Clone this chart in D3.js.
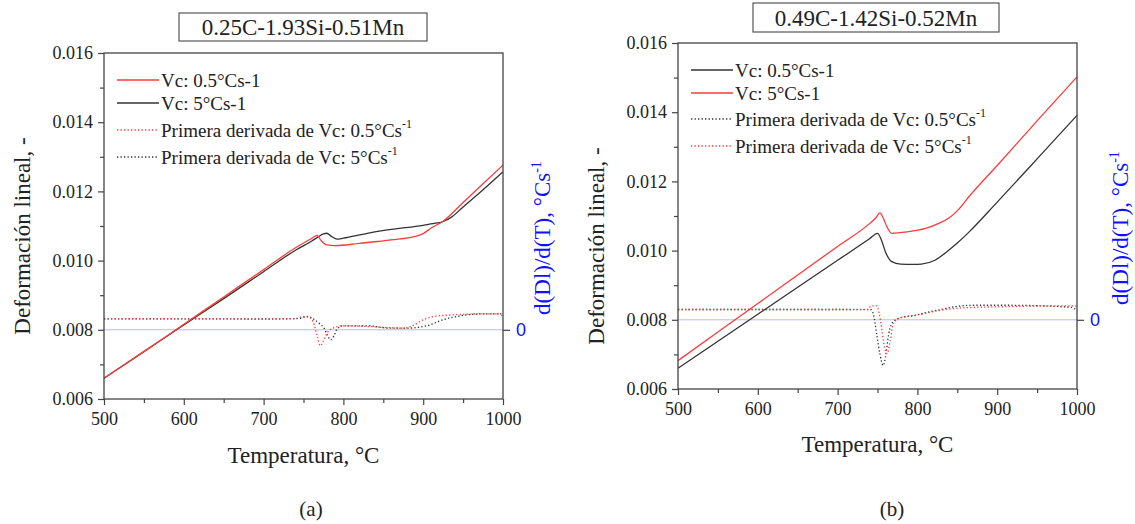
<!DOCTYPE html>
<html><head><meta charset="utf-8">
<script src="https://cdn.jsdelivr.net/npm/d3@7"></script>
<style>
html,body{margin:0;padding:0;background:#fff;}
svg{display:block;font-family:"Liberation Serif","Times New Roman",serif;}
svg text{font-family:"Liberation Serif","Times New Roman",serif;}
svg text.sans{font-family:"Liberation Sans",Arial,sans-serif;}
</style></head><body>
<svg id="chart" width="1135" height="524"></svg>
<script>
// ---------- shared ticks ----------
const tempTicks = [500, 600, 700, 800, 900, 1000];
const tempMinorTicks = [550, 650, 750, 850, 950];
const defTicks = [0.006, 0.008, 0.010, 0.012, 0.014, 0.016];
const defMinorTicks = [0.007, 0.009, 0.011, 0.013, 0.015];
const derivTicks = [0];
const tempDomain = [500, 1000];
const defDomain = [0.006, 0.016];
const derivDomain = [-10, 40]; // x1e-5 per °C, zero aligned with 0.008

// ---------- panel (a): 0.25C-1.93Si-0.51Mn ----------
const aTitle = "0.25C-1.93Si-0.51Mn";
const aTemp05 = [500, 550, 600, 650, 700, 740, 760, 767, 772, 778, 790, 820, 860, 890, 900, 910, 925, 950, 975, 1000];
const aDef05  = [0.00660, 0.00737, 0.00816, 0.00895, 0.00974, 0.01037, 0.01064, 0.01073, 0.01058, 0.01046, 0.01043, 0.01050, 0.01060, 0.01070, 0.01078, 0.01094, 0.01114, 0.01168, 0.01222, 0.01276];
const aTemp5  = [500, 550, 600, 650, 700, 740, 760, 768, 775, 779, 785, 792, 800, 830, 860, 900, 915, 925, 935, 950, 975, 1000];
const aDef5   = [0.00660, 0.00737, 0.00814, 0.00890, 0.00968, 0.01030, 0.01056, 0.01068, 0.01077, 0.01079, 0.01070, 0.01062, 0.01065, 0.01079, 0.01090, 0.01102, 0.01108, 0.01113, 0.01125, 0.01155, 0.01205, 0.01257];
const aDerTemp05 = [500, 600, 700, 740, 750, 757, 762, 767, 771, 775, 780, 787, 800, 830, 860, 875, 885, 900, 915, 945, 975, 995, 1000];
const aDer05     = [1.59, 1.59, 1.55, 1.60, 1.92, 1.80, 1.20, -0.80, -2.30, -1.60, -0.40, 0.24, 0.58, 0.48, 0.30, 0.24, 0.50, 1.45, 1.95, 2.20, 2.30, 2.30, 1.90];
const aDerTemp5  = [500, 600, 700, 745, 755, 762, 770, 776, 780, 784, 788, 792, 800, 830, 858, 880, 905, 925, 946, 975, 1000];
const aDer5      = [1.59, 1.59, 1.56, 1.65, 1.92, 1.60, 0.90, 0.20, -0.80, -1.45, -0.90, 0.10, 0.58, 0.58, 0.24, 0.24, 0.60, 1.45, 2.00, 2.30, 2.30];
const aLegend = ["Vc: 0.5°Cs-1", "Vc: 5°Cs-1", "Primera derivada de Vc: 0.5°Cs", "Primera derivada de Vc: 5°Cs"];

// ---------- panel (b): 0.49C-1.42Si-0.52Mn ----------
const bTitle = "0.49C-1.42Si-0.52Mn";
const bTemp05 = [500, 600, 700, 740, 750, 755, 760, 768, 779, 795, 805, 822, 838, 850, 864, 900, 950, 1000];
const bDef05  = [0.00660, 0.00816, 0.00972, 0.01034, 0.01050, 0.01030, 0.00996, 0.00968, 0.00961, 0.00960, 0.00961, 0.00972, 0.00999, 0.01022, 0.01052, 0.01140, 0.01265, 0.01391];
const bTemp5  = [500, 600, 700, 740, 748, 753, 757, 762, 768, 787, 810, 826, 840, 852, 865, 900, 950, 1000];
const bDef5   = [0.00682, 0.00847, 0.01012, 0.01078, 0.01095, 0.01109, 0.01095, 0.01068, 0.01050, 0.01054, 0.01064, 0.01078, 0.01095, 0.01120, 0.01157, 0.01246, 0.01375, 0.01502];
const bDerTemp05 = [500, 600, 700, 742, 746, 749, 753, 757, 760, 764, 770, 779, 796, 813, 830, 847, 872, 915, 958, 993, 1000];
const bDer05     = [1.49, 1.49, 1.49, 1.45, 0.20, -2.10, -4.90, -6.60, -5.40, -2.10, -0.20, 0.30, 0.60, 1.10, 1.50, 1.90, 2.10, 2.10, 2.00, 1.80, 1.30];
const bDerTemp5  = [500, 600, 700, 738, 742, 749, 752, 755, 758, 762, 766, 770, 779, 787, 804, 825, 843, 872, 915, 958, 1000];
const bDer5      = [1.49, 1.49, 1.49, 1.50, 2.00, 2.00, 1.00, -1.10, -3.50, -4.90, -3.00, -0.50, 0.30, 0.50, 0.80, 1.30, 1.60, 1.80, 1.90, 2.00, 2.00];
const bLegend = ["Vc: 0.5°Cs-1", "Vc: 5°Cs-1", "Primera derivada de Vc: 0.5°Cs", "Primera derivada de Vc: 5°Cs"];

const xTitle = "Temperatura, °C";
const yTitle = "Deformación lineal, -";
const y2Title = "d(Dl)/d(T), °Cs";
const panelLabels = ["(a)", "(b)"];

const RED = "#ff3a3a", BLACK = "#333333", BLUE = "#1010ff", AXIS = "#444";
const svg = d3.select("#chart");

function drawPanel(g) {
  const x = d3.scaleLinear().domain(tempDomain).range([g.left, g.right]);
  const y = d3.scaleLinear().domain(defDomain).range([g.bottom, g.top]);
  const y2 = d3.scaleLinear().domain(derivDomain).range([g.bottom, g.top]);
  const root = svg.append("g");

  // zero derivative line
  root.append("line").attr("x1", g.left).attr("x2", g.right)
    .attr("y1", y2(0)).attr("y2", y2(0))
    .attr("stroke", "#b8b8ff").attr("stroke-width", 1);

  const line = d3.line().x(d => x(d[0])).y(d => y(d[1])).curve(d3.curveMonotoneX);
  const dline = d3.line().x(d => x(d[0])).y(d => y2(d[1])).curve(d3.curveMonotoneX);

  g.deriv.forEach(s => {
    root.append("path").datum(d3.zip(s.t, s.v)).attr("d", dline)
      .attr("fill", "none").attr("stroke", s.color).attr("stroke-width", 1.3)
      .attr("stroke-dasharray", "1.3,2.2");
  });
  g.series.forEach(s => {
    root.append("path").datum(d3.zip(s.t, s.v)).attr("d", line)
      .attr("fill", "none").attr("stroke", s.color).attr("stroke-width", 1.3);
  });

  // frame
  root.append("rect").attr("x", g.left).attr("y", g.top)
    .attr("width", g.right - g.left).attr("height", g.bottom - g.top)
    .attr("fill", "none").attr("stroke", AXIS).attr("stroke-width", 1.3);

  // axes
  const styleAxis = sel => {
    sel.attr("font-family", null);
    sel.select(".domain").remove();
    sel.selectAll(".tick line").attr("stroke", AXIS).attr("stroke-width", 1.2);
    sel.selectAll("text").attr("font-size", 18).attr("fill", "#222");
  };
  root.append("g").attr("transform", `translate(0,${g.bottom})`)
    .call(d3.axisBottom(x).tickValues(tempTicks).tickSize(6).tickPadding(7).tickFormat(d3.format("d")))
    .call(styleAxis);
  root.append("g").attr("transform", `translate(0,${g.bottom})`)
    .call(d3.axisBottom(x).tickValues(tempMinorTicks).tickSize(4).tickFormat(""))
    .call(styleAxis);
  root.append("g").attr("transform", `translate(${g.left},0)`)
    .call(d3.axisLeft(y).tickValues(defTicks).tickSize(6).tickPadding(5).tickFormat(d3.format(".3f")))
    .call(styleAxis);
  root.append("g").attr("transform", `translate(${g.left},0)`)
    .call(d3.axisLeft(y).tickValues(defMinorTicks).tickSize(4).tickFormat(""))
    .call(styleAxis);
  const ax2 = root.append("g").attr("transform", `translate(${g.right},0)`)
    .call(d3.axisRight(y2).tickValues(derivTicks).tickSize(7).tickPadding(6).tickFormat(d3.format("d")))
    .call(styleAxis);
  ax2.selectAll("text").classed("sans", true).attr("fill", BLUE).attr("font-size", 18);

  // axis titles
  root.append("text").attr("x", (g.left + g.right) / 2).attr("y", g.xTitleY)
    .attr("text-anchor", "middle").attr("font-size", 23).attr("fill", "#222").text(xTitle);
  root.append("text").attr("transform", `translate(${g.yTitleX},${g.yTitleCY}) rotate(-90)`)
    .attr("text-anchor", "middle").attr("font-size", 23).attr("fill", "#222").text(yTitle);
  const t2 = root.append("text").attr("transform", `translate(${g.y2TitleX},${g.y2TitleCY}) rotate(-90)`)
    .attr("text-anchor", "middle").attr("font-size", 23).attr("fill", BLUE);
  t2.append("tspan").text(y2Title);
  t2.append("tspan").attr("dy", -9).attr("font-size", 14).text("-1");

  // title box
  root.append("rect").attr("x", g.box[0]).attr("y", g.box[1]).attr("width", g.box[2]).attr("height", g.box[3])
    .attr("fill", "#fff").attr("stroke", "#555").attr("stroke-width", 1.2);
  root.append("text").attr("x", g.box[0] + g.box[2] / 2).attr("y", g.box[1] + g.box[3] / 2 + 8)
    .attr("text-anchor", "middle").attr("font-size", 23).attr("fill", "#222").text(g.title);

  // legend
  const lg = root.append("g");
  g.legend.forEach((lab, i) => {
    const yy = g.top + g.legendRows[i];
    const it = g.legendItems[i];
    lg.append("line").attr("x1", g.left + 13).attr("x2", g.left + 55).attr("y1", yy).attr("y2", yy)
      .attr("stroke", it.color).attr("stroke-width", 1.3)
      .attr("stroke-dasharray", it.dotted ? "1.3,2.2" : null);
    const tx = lg.append("text").attr("x", g.left + 57).attr("y", yy + 6.5)
      .attr("font-size", 19).attr("fill", "#222");
    tx.append("tspan").text(lab);
    if (it.dotted) tx.append("tspan").attr("dy", -9).attr("font-size", 12).text("-1");
  });

  // panel label
  root.append("text").attr("x", g.labelX).attr("y", 516).attr("text-anchor", "middle")
    .attr("font-size", 21).attr("fill", "#222").text(g.label);
}

drawPanel({
  left: 104, right: 503, top: 53, bottom: 399,
  title: aTitle, box: [179, 13, 248, 28], label: panelLabels[0], labelX: 311,
  xTitleY: 463, yTitleX: 30, yTitleCY: 236, y2TitleX: 550, y2TitleCY: 238,
  series: [{t: aTemp5, v: aDef5, color: BLACK}, {t: aTemp05, v: aDef05, color: RED}],
  deriv: [{t: aDerTemp5, v: aDer5, color: BLACK}, {t: aDerTemp05, v: aDer05, color: RED}],
  legend: aLegend, legendRows: [27, 50, 77, 104],
  legendItems: [{color: RED}, {color: BLACK}, {color: RED, dotted: true}, {color: BLACK, dotted: true}]
});
drawPanel({
  left: 678, right: 1077, top: 43, bottom: 389,
  title: bTitle, box: [753, 3, 246, 29], label: panelLabels[1], labelX: 892,
  xTitleY: 452, yTitleX: 604, yTitleCY: 246, y2TitleX: 1128, y2TitleCY: 228,
  series: [{t: bTemp05, v: bDef05, color: BLACK}, {t: bTemp5, v: bDef5, color: RED}],
  deriv: [{t: bDerTemp05, v: bDer05, color: BLACK}, {t: bDerTemp5, v: bDer5, color: RED}],
  legend: bLegend, legendRows: [27, 50, 76, 103],
  legendItems: [{color: BLACK}, {color: RED}, {color: BLACK, dotted: true}, {color: RED, dotted: true}]
});
</script>
</body></html>
